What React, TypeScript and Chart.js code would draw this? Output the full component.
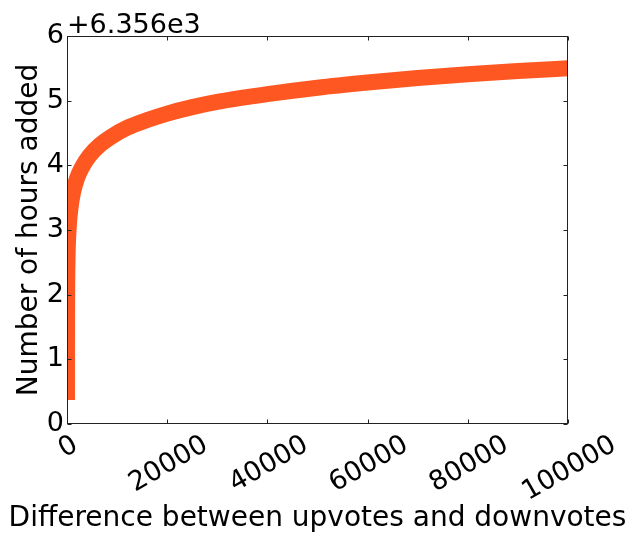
import React, { useEffect, useRef } from "react";
import { Chart, registerables } from "chart.js";

Chart.register(...registerables);

// ---- data ----
const Y_OFFSET = 6356;
const OFFSET_LABEL = "+6.356e3";
const voteDifference = [
  1, 5, 20, 100, 300, 700, 1200, 2000, 3000, 4500, 6500, 9000, 12000, 16000,
  20000, 25000, 30000, 40000, 50000, 60000, 70000, 80000, 90000, 100000,
];
const hoursAdded = [
  6356.37, 6357.2, 6357.8, 6358.5, 6358.98, 6359.34, 6359.58, 6359.8, 6359.97,
  6360.15, 6360.31, 6360.45, 6360.58, 6360.7, 6360.8, 6360.9, 6360.98, 6361.1,
  6361.2, 6361.28, 6361.35, 6361.41, 6361.46, 6361.5,
];
const xTickValues = [0, 20000, 40000, 60000, 80000, 100000];
const xTickLabels = ["0", "20000", "40000", "60000", "80000", "100000"];
const yTickLabels = ["0", "1", "2", "3", "4", "5", "6"];
const X_TITLE = "Difference between upvotes and downvotes";
const Y_TITLE = "Number of hours added";
const LINE_COLOR = "#FF5722";
const FONT_FAMILY = '"DejaVu Sans", sans-serif';

const frame = {
  id: "mplFrame",
  afterDatasetsDraw(chart: any) {
    const { ctx, chartArea, scales } = chart;
    const { left, right, top, bottom } = chartArea;
    const x = scales.x;
    const y = scales.y;
    ctx.save();
    ctx.strokeStyle = "#222";
    ctx.lineWidth = 1;
    const L = Math.round(left) + 0.5;
    const R = Math.round(right) - 0.5;
    const T = Math.round(top) + 0.5;
    const B = Math.round(bottom) - 0.5;
    ctx.strokeRect(L, T, R - L, B - T);
    const tl = 4;
    ctx.beginPath();
    xTickValues.forEach((v) => {
      const px = Math.round(x.getPixelForValue(v)) + 0.5;
      ctx.moveTo(px, B);
      ctx.lineTo(px, B - tl);
      ctx.moveTo(px, T);
      ctx.lineTo(px, T + tl);
    });
    yTickLabels.forEach((_, i) => {
      const py = Math.round(y.getPixelForValue(Y_OFFSET + i)) + 0.5;
      ctx.moveTo(L, py);
      ctx.lineTo(L + tl, py);
      ctx.moveTo(R, py);
      ctx.lineTo(R - tl, py);
    });
    ctx.stroke();

    // rotated x tick labels (centred under the tick, like matplotlib)
    const fs = 27;
    ctx.font = `${fs}px ${FONT_FAMILY}`;
    ctx.fillStyle = "#000";
    const capH = fs * 0.73;
    const ang = Math.PI / 6;
    xTickValues.forEach((v, i) => {
      const label = xTickLabels[i];
      const w = ctx.measureText(label).width;
      const H = w * Math.sin(ang) + capH * Math.cos(ang);
      const px = x.getPixelForValue(v);
      const cy = bottom + 8 + H / 2;
      ctx.save();
      ctx.translate(px, cy);
      ctx.rotate(-ang);
      ctx.textAlign = "center";
      ctx.textBaseline = "alphabetic";
      ctx.fillText(label, 0, capH / 2);
      ctx.restore();
    });

    // offset text
    ctx.textAlign = "left";
    ctx.textBaseline = "alphabetic";
    ctx.fillText(OFFSET_LABEL, left, 33);

    // x axis title
    ctx.font = `28px ${FONT_FAMILY}`;
    ctx.textAlign = "center";
    ctx.fillText(X_TITLE, (left + right) / 2, 526);
    ctx.restore();
  },
};

export default function App() {
  const ref = useRef<HTMLCanvasElement>(null);
  useEffect(() => {
    if (!ref.current) return;
    const chart = new Chart(ref.current, {
      type: "line",
      data: {
        datasets: [
          {
            data: voteDifference.map((v, i) => ({ x: v, y: hoursAdded[i] })),
            borderColor: LINE_COLOR,
            backgroundColor: LINE_COLOR,
            borderWidth: 16,
            pointRadius: 0,
            cubicInterpolationMode: "monotone",
            borderCapStyle: "butt",
            borderJoinStyle: "round",
            clip: 0,
          } as any,
        ],
      },
      options: {
        animation: false,
        responsive: false,
        events: [],
        layout: { padding: { left: 0, top: 36, right: 62, bottom: 0 } },
        plugins: { legend: { display: false }, tooltip: { enabled: false } },
        scales: {
          x: {
            type: "linear",
            min: 0,
            max: 100000,
            grid: { display: false },
            border: { display: false },
            ticks: { display: false, stepSize: 20000 },
            afterFit: (s: any) => {
              s.height = 112;
            },
          },
          y: {
            type: "linear",
            min: Y_OFFSET,
            max: Y_OFFSET + 6,
            grid: { display: false, drawTicks: false },
            border: { display: false },
            ticks: {
              stepSize: 1,
              padding: 3,
              color: "#000",
              font: { family: FONT_FAMILY, size: 27 },
              callback: (v: any) => yTickLabels[Math.round(Number(v) - Y_OFFSET)],
            },
            title: {
              display: true,
              text: Y_TITLE,
              color: "#000",
              font: { family: FONT_FAMILY, size: 28 },
              padding: { top: 13, bottom: 0 },
            },
            afterFit: (s: any) => {
              s.width = 67;
            },
          },
        },
      },
      plugins: [frame],
    });
    return () => chart.destroy();
  }, []);
  return (
    <div style={{ position: "fixed", left: 0, top: 0, width: 630, height: 536, background: "#fff" }}>
      <canvas ref={ref} width={630} height={536} style={{ width: 630, height: 536 }} />
    </div>
  );
}
